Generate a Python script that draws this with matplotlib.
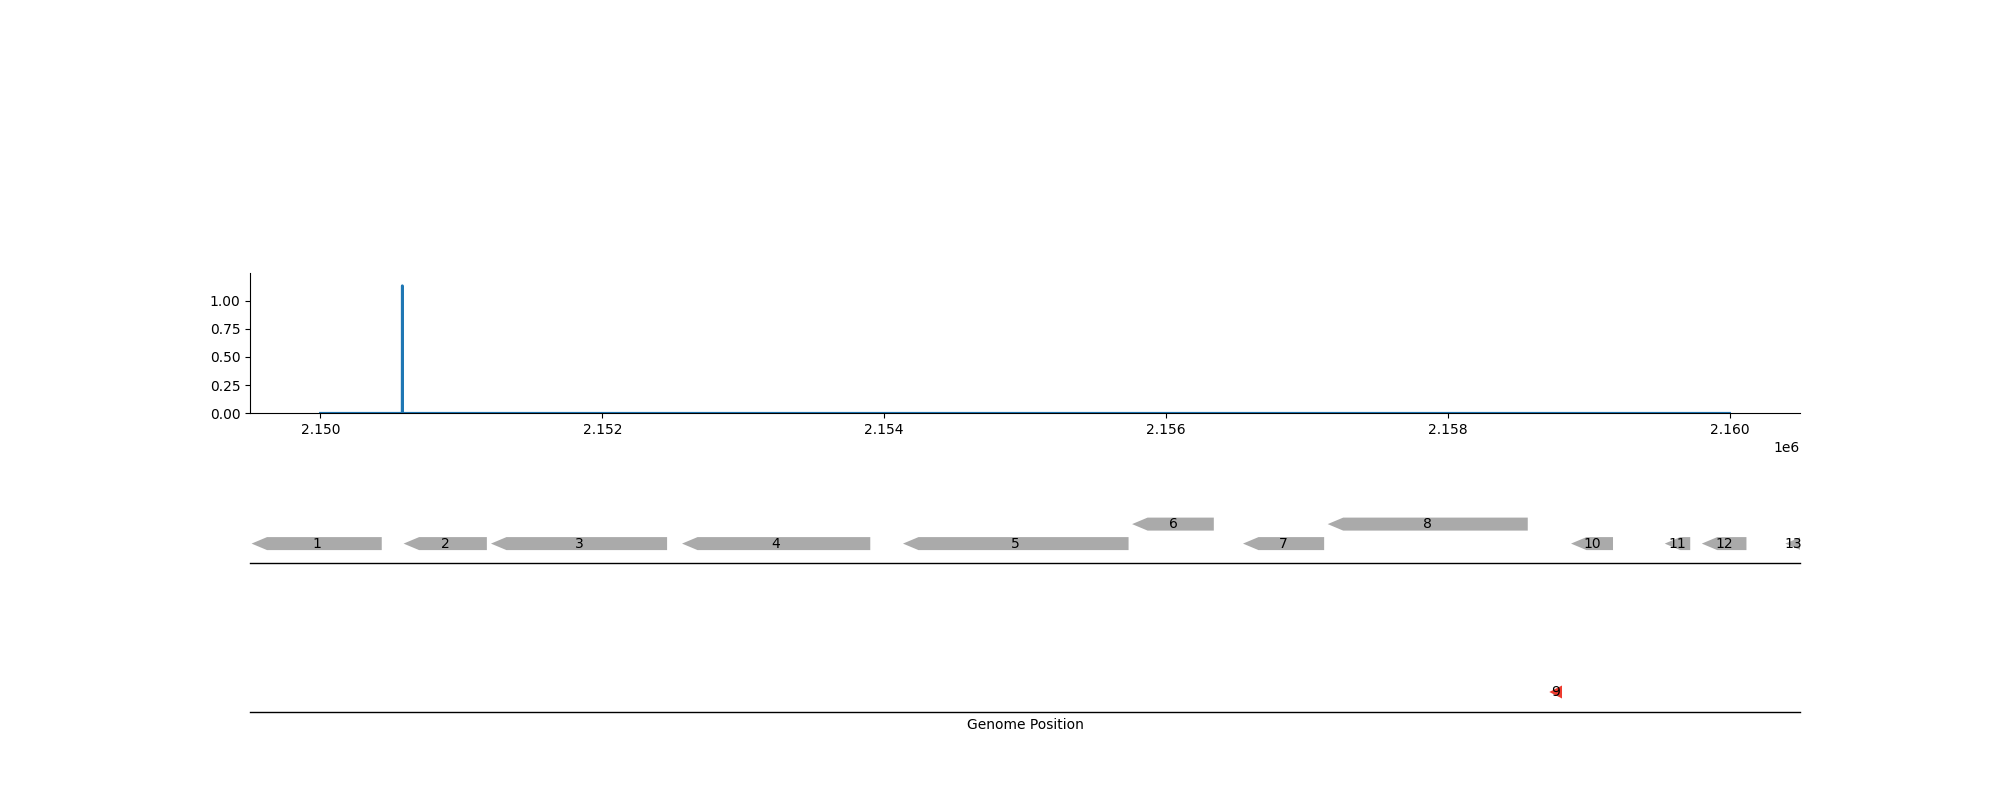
import numpy as np
import matplotlib
matplotlib.use("Agg")
import matplotlib.pyplot as plt
from matplotlib.patches import Polygon

# coverage track (one spike)
cov_pos = [2150000, 2150580, 2150581, 2150582, 2160000]
cov_val = [0.0, 0.0, 1.132, 0.0, 0.0]

# gene features (all on minus strand)
gene_labels = ["1", "2", "3", "4", "5", "6", "7", "8", "10", "11", "12", "13"]
gene_start = [2149511, 2150590, 2151210, 2152566, 2154134, 2155760, 2156547,
              2157148, 2158875, 2159540, 2159803, 2160396]
gene_end = [2150435, 2151181, 2152460, 2153902, 2155735, 2156340, 2157123,
            2158568, 2159173, 2159721, 2160120, 2160505]
gene_level = [0, 0, 0, 0, 0, 1, 0, 1, 0, 0, 0, 0]

# highlighted feature on its own track
hit_label = "9"
hit_start = 2158721
hit_end = 2158811

GRAY = "#aaaaaa"
RED = "#ee3b2e"
HEAD = 110      # arrow head length in bp
ROW_H = 13      # arrow height (track units)


def draw_arrow(ax, start, end, y, color, label):
    head = min(HEAD, end - start)
    pts = [(start, y), (start + head, y + ROW_H / 2), (end, y + ROW_H / 2),
           (end, y - ROW_H / 2), (start + head, y - ROW_H / 2)]
    ax.add_patch(Polygon(pts, closed=True, facecolor=color, edgecolor="none"))
    ax.text((start + end) / 2, y, label, ha="center", va="center",
            fontsize=10, clip_on=False)


def style_track(ax):
    for s in ["top", "left", "right"]:
        ax.spines[s].set_visible(False)
    ax.spines["bottom"].set_linewidth(1.0)
    ax.set_yticks([])
    ax.tick_params(axis="x", bottom=False, labelbottom=False)


fig = plt.figure(figsize=(20, 8), dpi=100)
W, H = 2000.0, 800.0

ax_cov = fig.add_axes([0.125, 1 - 413.3 / H, 0.775, (413.3 - 273) / H])
ax_cov.plot(cov_pos, cov_val, color="tab:blue", lw=2)
ax_cov.set_xlim(2149500, 2160500)
ax_cov.set_ylim(0, 1.245)
ax_cov.set_yticks([0, 0.25, 0.5, 0.75, 1.0])
ax_cov.spines["top"].set_visible(False)
ax_cov.spines["right"].set_visible(False)

ax_genes = fig.add_axes([0.125, 1 - 563.0 / H, 0.775, 70 / H], sharex=ax_cov)
ax_genes.set_ylim(0, 70)
style_track(ax_genes)
for lab, s, e, lv in zip(gene_labels, gene_start, gene_end, gene_level):
    draw_arrow(ax_genes, s, e, 19.4 + lv * 19.5, GRAY, lab)

ax_hit = fig.add_axes([0.125, 1 - 712.0 / H, 0.775, 70 / H], sharex=ax_cov)
ax_hit.set_ylim(0, 70)
style_track(ax_hit)
draw_arrow(ax_hit, hit_start, hit_end, 20.0, RED, hit_label)
ax_hit.set_xlabel("Genome Position")
ax_cov.tick_params(axis="x", labelbottom=True)

fig.savefig("out.png", dpi=100)
